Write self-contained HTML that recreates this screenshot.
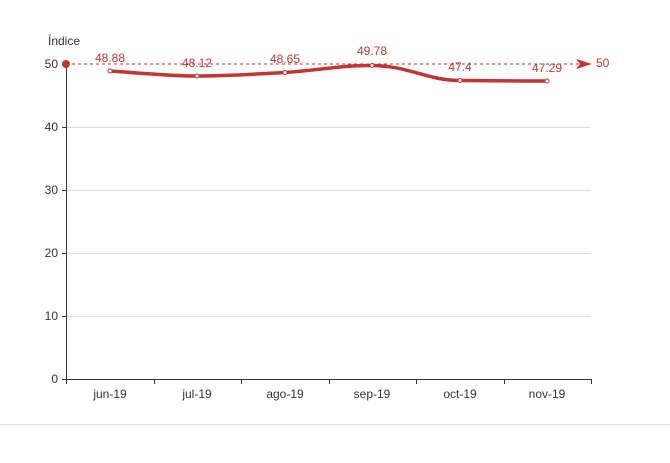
<!DOCTYPE html>
<html><head><meta charset="utf-8"><style>
html,body{margin:0;padding:0;background:#fff;width:670px;height:463px;overflow:hidden}
svg{display:block;font-family:"Liberation Sans",sans-serif}
</style></head><body>
<svg width="670" height="463" viewBox="0 0 670 463">
<g stroke="#ddd" stroke-width="1">
<line x1="66" y1="127.5" x2="591" y2="127.5"/>
<line x1="66" y1="190.5" x2="591" y2="190.5"/>
<line x1="66" y1="253.5" x2="591" y2="253.5"/>
<line x1="66" y1="316.5" x2="591" y2="316.5"/>
</g>
<line x1="0" y1="424.5" x2="670" y2="424.5" stroke="#e3e3e3"/>
<g stroke="#333" stroke-width="1">
<line x1="66.5" y1="64" x2="66.5" y2="379"/>
<line x1="62" y1="379.5" x2="591" y2="379.5"/>
<line x1="62" y1="64.5" x2="66" y2="64.5"/>
<line x1="62" y1="127.5" x2="66" y2="127.5"/>
<line x1="62" y1="190.5" x2="66" y2="190.5"/>
<line x1="62" y1="253.5" x2="66" y2="253.5"/>
<line x1="62" y1="316.5" x2="66" y2="316.5"/>
<line x1="66.5" y1="379" x2="66.5" y2="384"/>
<line x1="154.5" y1="379" x2="154.5" y2="384"/>
<line x1="241.5" y1="379" x2="241.5" y2="384"/>
<line x1="329.5" y1="379" x2="329.5" y2="384"/>
<line x1="416.5" y1="379" x2="416.5" y2="384"/>
<line x1="504.5" y1="379" x2="504.5" y2="384"/>
<line x1="591.5" y1="379" x2="591.5" y2="384"/>
</g>
<g font-size="12" fill="#333" text-anchor="end">
<text x="58" y="68">50</text><text x="58" y="131">40</text><text x="58" y="194">30</text>
<text x="58" y="257">20</text><text x="58" y="320">10</text><text x="58" y="383">0</text>
</g>
<text x="48" y="45" font-size="12" fill="#333">Índice</text>
<g font-size="12" fill="#333" text-anchor="middle">
<text x="110" y="398">jun-19</text><text x="197" y="398">jul-19</text><text x="285" y="398">ago-19</text>
<text x="372" y="398">sep-19</text><text x="460" y="398">oct-19</text><text x="547" y="398">nov-19</text>
</g>
<line x1="66" y1="64" x2="580" y2="64" stroke="#c23531" stroke-dasharray="3,3" stroke-width="1"/>
<circle cx="66" cy="64" r="4" fill="#c23531"/>
<path d="M576 59 L592 64 L576 69 L580 64 Z" fill="#c23531"/>
<text x="596" y="67" font-size="12" fill="#c23531">50</text>
<path d="M110 71 C140 73,170 76,197 76 C230 76,255 74,285 72.5 C320 70,345 65,372 65.5 C410 66,425 80,460 80.5 C500 81,520 81,547 81" fill="none" stroke="#c23531" stroke-width="3.5"/>
<g fill="#fff" stroke="#c23531" stroke-width="1">
<circle cx="110" cy="71" r="2"/><circle cx="197" cy="76" r="2"/><circle cx="285" cy="72.5" r="2"/>
<circle cx="372" cy="65.5" r="2"/><circle cx="460" cy="80.5" r="2"/><circle cx="547" cy="81" r="2"/>
</g>
<g font-size="12" fill="#c23531" text-anchor="middle">
<text x="110" y="62">48.88</text><text x="197" y="67">48.12</text><text x="285" y="63">48.65</text>
<text x="372" y="55">49.78</text><text x="460" y="71">47.4</text><text x="547" y="72">47.29</text>
</g>
</svg>
</body></html>
